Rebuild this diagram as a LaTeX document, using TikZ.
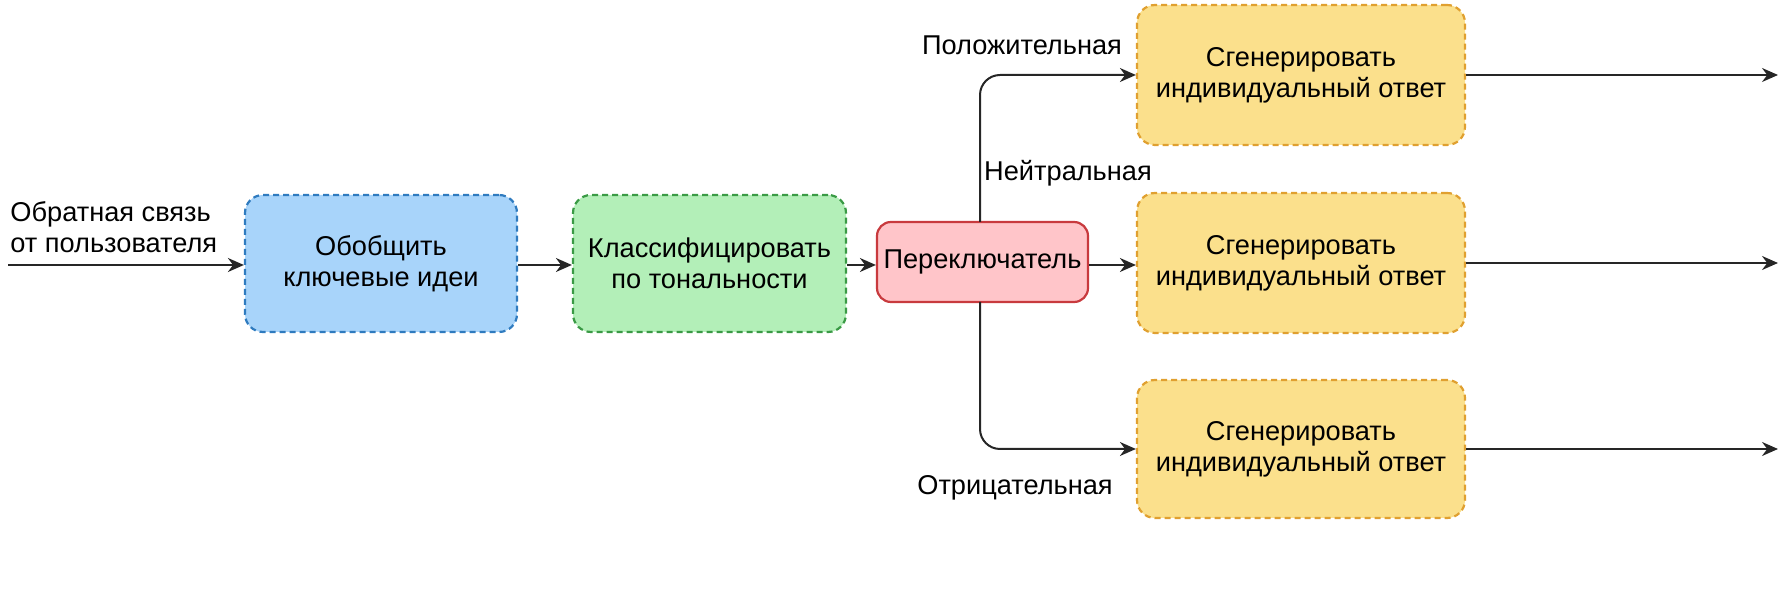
\documentclass[tikz,border=0pt]{standalone}
\usepackage{fontspec}
\setmainfont{Liberation Sans}
\usetikzlibrary{arrows.meta,positioning}
\definecolor{bfill}{HTML}{A8D4FA}\definecolor{bdraw}{HTML}{2F7BBF}
\definecolor{gfill}{HTML}{B3EFB8}\definecolor{gdraw}{HTML}{3A9A45}
\definecolor{rfill}{HTML}{FFC5C9}\definecolor{rdraw}{HTML}{C83A3E}
\definecolor{yfill}{HTML}{FBE08C}\definecolor{ydraw}{HTML}{E0A030}
\begin{document}
\begin{tikzpicture}[x=0.5pt,y=-0.5pt,
  font=\fontsize{13.6}{15.5}\selectfont,
  box/.style={rounded corners=9pt,line width=1.1pt,dashed,dash pattern=on 3pt off 2pt,align=center,inner sep=0pt},
  arr/.style={-{Stealth[length=8pt,width=7pt]},line width=1pt,black!85},
  lbl/.style={inner sep=1pt}]
\useasboundingbox (0,0) rectangle (1778,592);
\node[box,fill=bfill,draw=bdraw,minimum width=136pt,minimum height=68.5pt] (b1) at (381,263.5) {Обобщить\\ключевые идеи};
\node[box,fill=gfill,draw=gdraw,minimum width=136.5pt,minimum height=68.5pt] (b2) at (709.5,263.5) {Классифицировать\\по тональности};
\node[box,solid,rounded corners=7pt,fill=rfill,draw=rdraw,minimum width=105.5pt,minimum height=40pt] (sw) at (982.5,262) {Переключатель};
\node[box,fill=yfill,draw=ydraw,minimum width=164pt,minimum height=70pt] (y1) at (1301,75) {Сгенерировать\\индивидуальный ответ};
\node[box,fill=yfill,draw=ydraw,minimum width=164pt,minimum height=70pt] (y2) at (1301,263) {Сгенерировать\\индивидуальный ответ};
\node[box,fill=yfill,draw=ydraw,minimum width=164pt,minimum height=69pt] (y3) at (1301,449) {Сгенерировать\\индивидуальный ответ};
\node[lbl,align=left,anchor=south west] (in) at (8,255) {Обратная связь\\от пользователя};
\coordinate (st) at (8,265);
\draw[arr] (st) -- (b1.west |- st);
\draw[arr] (b1.east |- st) -- (b2.west |- st);
\draw[arr] (b2.east |- st) -- (sw.west |- st);
\draw[arr] (sw.east |- st) -- (y2.west |- st);
\coordinate (ta) at (980,222);
\coordinate (ba) at (980,302);
\draw[arr,rounded corners=10pt] (ta) -- (980,75) -- (y1.west);
\draw[arr,rounded corners=10pt] (ba) -- (980,449) -- (y3.west);
\node[lbl] (lp) at (1022,45) {Положительная};
\node[lbl] (ln) at (1068,173) {Нейтральная};
\node[lbl] (lo) at (1015,488) {Отрицательная};
\coordinate (o1) at (1778,75);\coordinate (o2) at (1778,263);\coordinate (o3) at (1778,449);
\draw[arr] (y1.east) -- (o1);
\draw[arr] (y2.east) -- (o2);
\draw[arr] (y3.east) -- (o3);
\end{tikzpicture}
\end{document}
